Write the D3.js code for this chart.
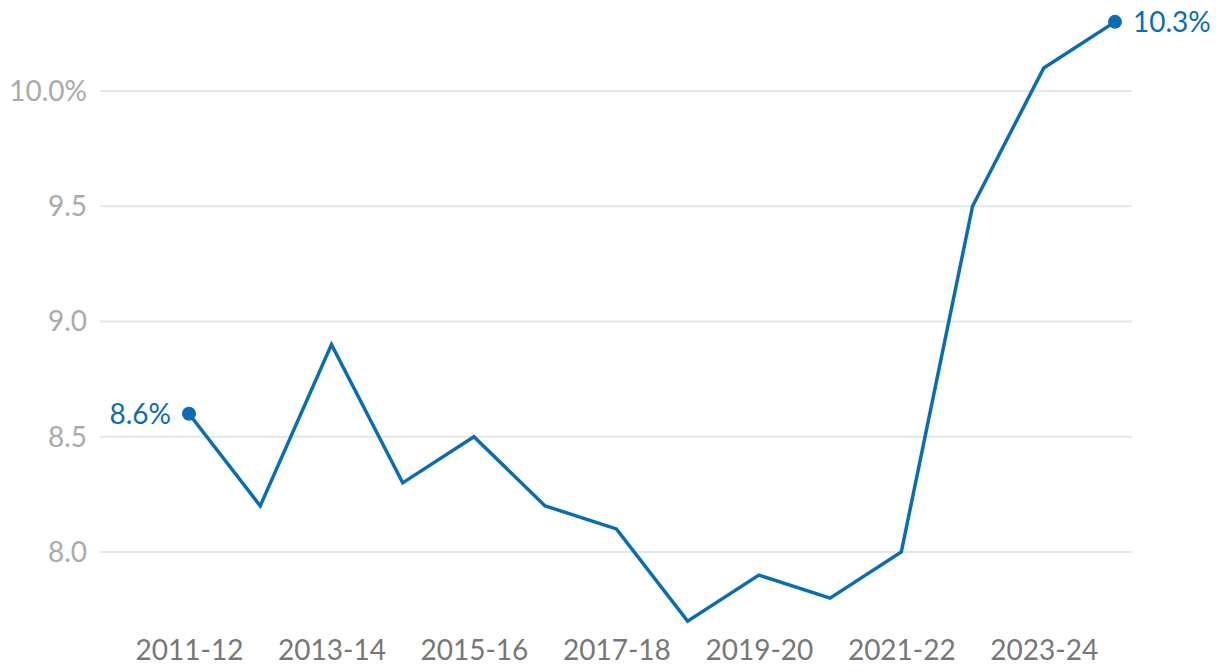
<!DOCTYPE html>
<html>
<head>
<meta charset="utf-8">
<script src="https://cdn.jsdelivr.net/npm/d3@7"></script>
<style>
  body { margin: 0; background: #fff; }
  svg { font-family: Lato, "Open Sans", sans-serif; }
</style>
</head>
<body>
<svg id="chart" width="1220" height="672"></svg>
<script>
const years = ['2011-12', '2012-13', '2013-14', '2014-15', '2015-16', '2016-17', '2017-18',
    '2018-19', '2019-20', '2020-21', '2021-22', '2022-23', '2023-24', '2024-25']
const values = [8.6, 8.2, 8.9, 8.3, 8.5, 8.2, 8.1, 7.7, 7.9, 7.8, 8.0, 9.5, 10.1, 10.3]
const yTicks = [8.0, 8.5, 9.0, 9.5, 10.0]
const xTickLabels = ['2011-12', '2013-14', '2015-16', '2017-18', '2019-20', '2021-22', '2023-24']

const svg = d3.select('#chart')
const margin = {left: 100, right: 1132}
const blue = '#0a6db3'
const fontSize = '28px'

const x = d3.scalePoint()
    .domain(years)
    .range([189, 1115])

const y = d3.scaleLinear()
    .domain([8, 10])
    .range([552, 91])

// grid
svg.append('g')
    .selectAll('line')
    .data(yTicks)
    .join('line')
    .attr('x1', margin.left)
    .attr('x2', margin.right)
    .attr('y1', d => y(d))
    .attr('y2', d => y(d))
    .style('stroke', '#e6e6e6')
    .style('stroke-width', '2px')

// y labels
svg.append('g')
    .selectAll('text')
    .data(yTicks)
    .join('text')
    .attr('x', 87)
    .attr('y', d => y(d))
    .attr('dy', '0.35em')
    .style('text-anchor', 'end')
    .style('font-size', fontSize)
    .style('fill', '#aaaaaa')
    .text(d => d === 10 ? d.toFixed(1) + '%' : d.toFixed(1))

// x axis
const xAxis = d3.axisBottom(x)
    .tickValues(xTickLabels)
    .tickSize(0)
    .tickPadding(0)

const gx = svg.append('g')
    .attr('transform', 'translate(0, 660)')
    .call(xAxis)
gx.select('.domain').remove()
gx.selectAll('text')
    .attr('y', 0)
    .attr('dy', 0)
    .style('font-family', 'Lato, "Open Sans", sans-serif')
    .style('font-size', fontSize)
    .style('fill', '#777777')

// line
const line = d3.line()
    .x((d, i) => x(years[i]))
    .y(d => y(d))

svg.append('path')
    .datum(values)
    .attr('d', line)
    .style('fill', 'none')
    .style('stroke', blue)
    .style('stroke-width', '3.5px')
    .style('stroke-linejoin', 'miter')

// end points
const ends = [0, values.length - 1]
svg.append('g')
    .selectAll('circle')
    .data(ends)
    .join('circle')
    .attr('cx', i => x(years[i]))
    .attr('cy', i => y(values[i]))
    .attr('r', 7)
    .style('fill', blue)

svg.append('g')
    .selectAll('text')
    .data(ends)
    .join('text')
    .attr('x', i => x(years[i]) + (i === 0 ? -18 : 18))
    .attr('y', i => y(values[i]))
    .attr('dy', '0.35em')
    .style('text-anchor', i => i === 0 ? 'end' : 'start')
    .style('font-size', fontSize)
    .style('fill', blue)
    .text(i => values[i].toFixed(1) + '%')
</script>
</body>
</html>
